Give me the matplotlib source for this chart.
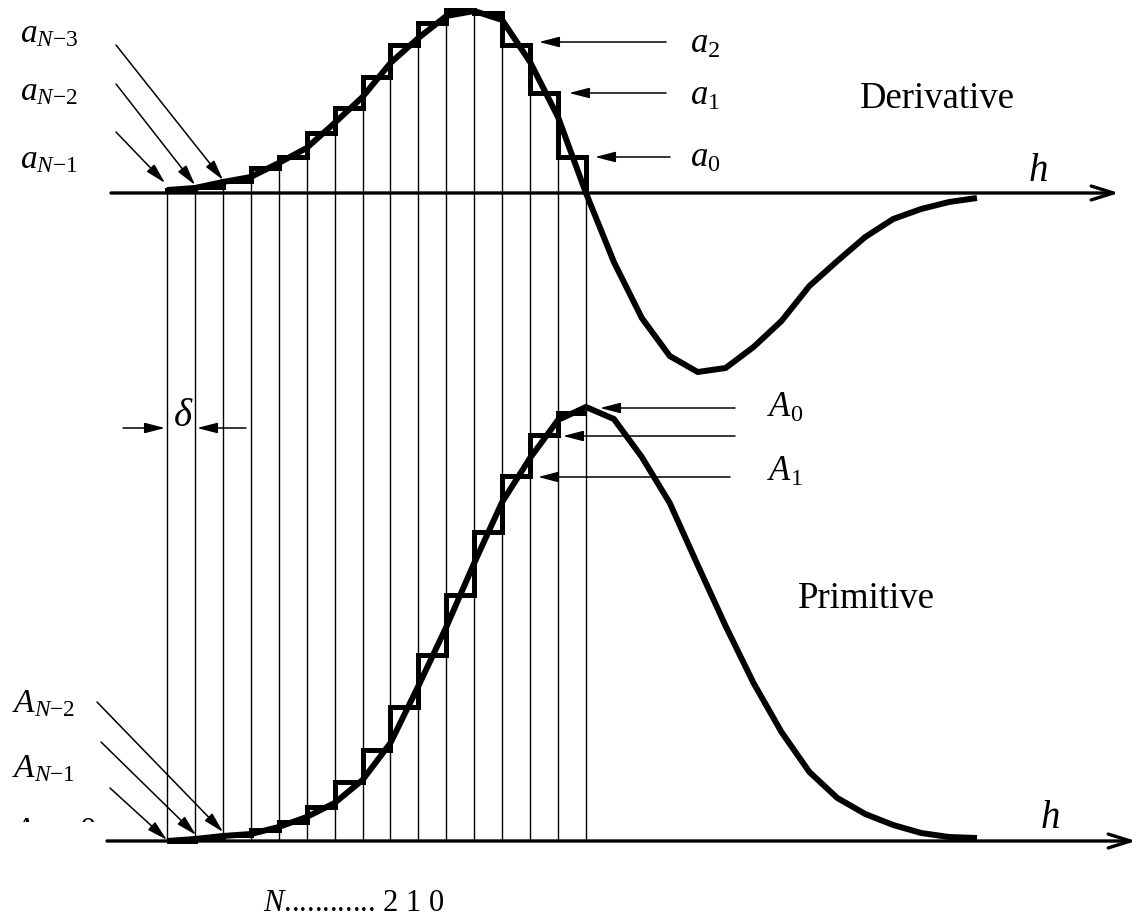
import numpy as np
import matplotlib
matplotlib.use("Agg")
import matplotlib.pyplot as plt
from matplotlib.transforms import Bbox

plt.rcParams['font.family'] = ['Liberation Serif', 'DejaVu Serif']
plt.rcParams['mathtext.fontset'] = 'custom'
plt.rcParams['mathtext.rm'] = 'Liberation Serif'
plt.rcParams['mathtext.it'] = 'Liberation Serif:italic'
plt.rcParams['mathtext.bf'] = 'Liberation Serif:bold'

# ---------------- data ----------------
h_nodes = np.arange(30)                      # sample points along h
step_edges = np.arange(16)                   # staircase cell edges (N ... 2 1 0)

derivative = [3, 5, 11, 16, 30, 45, 70, 96, 130, 155, 177, 182, 173, 131, 76, 0,
              -69, -125, -163, -179, -175, -154, -128, -93, -68, -44, -26, -16, -9, -5]
deriv_steps = [3, 6, 12, 25, 36, 60, 85, 116, 148, 170, 183, 180, 148, 100, 36]

primitive = [0, 2, 5, 7, 14, 24, 38, 61, 98, 155, 214, 278, 339, 383, 421, 434,
             422, 384, 338, 276, 215, 158, 109, 69, 43, 27, 16, 8, 4, 3]
prim_steps = [0, 3, 6, 11, 19, 34, 59, 91, 134, 186, 246, 309, 365, 406, 428]

deriv_right_labels = ['$a_2$', '$a_1$', '$a_0$']
deriv_left_labels = ['$a_{N{-}3}$', '$a_{N{-}2}$', '$a_{N{-}1}$']
prim_right_labels = ['$A_0$', '', '$A_1$']
prim_left_labels = ['$A_{N{-}2}$', '$A_{N{-}1}$', '$A_N = 0$']
title_deriv = 'Derivative'
title_prim = 'Primitive'
axis_label = '$h$'
index_label = '$N$............ 2 1 0'
delta_label = r'$\delta$'

# ---------------- layout ----------------
W, H = 1137, 919
X0_PX, DX_PX = 167.0, 27.93          # pixel position of h=0 and pixel size of one step
Y_D, Y_P = 193.0, 841.0              # pixel rows of the two h axes

fig = plt.figure(figsize=(W / 100, H / 100), dpi=100)
ax = fig.add_axes([0, 0, 1, 1])
ax.set_xlim(-X0_PX / DX_PX, (W - X0_PX) / DX_PX)
ax.set_ylim(H, 0)
ax.axis('off')

def F(x, y):
    return (x / W, 1 - y / H)

deriv = np.array(derivative, float)
dst = np.array(deriv_steps, float)
prim = np.array(primitive, float)
pst = np.array(prim_steps, float)

# vertical grid lines from derivative staircase down to primitive axis
tops = np.array([max(dst[max(i - 1, 0)], dst[min(i, len(dst) - 1)]) for i in step_edges])
ax.vlines(step_edges, Y_D - tops, Y_P, color='k', lw=1.0, zorder=1)

# axes with arrows
for (xa, xb, y) in [(111, 1119, Y_D), (107, 1136, Y_P)]:
    ax.annotate('', xy=F(xb, y), xytext=F(xa, y), xycoords='figure fraction',
                textcoords='figure fraction',
                arrowprops=dict(arrowstyle='->,head_length=0.8,head_width=0.25',
                                lw=2.4, color='k', shrinkA=0, shrinkB=0,
                                mutation_scale=20), zorder=2)

# staircases
ax.stairs(Y_D - dst, step_edges, baseline=Y_D, color='k', lw=3.6,
          joinstyle='miter', zorder=3)
ax.stairs(Y_P - pst, step_edges, baseline=None, color='k', lw=3.6,
          joinstyle='miter', zorder=3)

# curves
ax.plot(h_nodes, Y_D - deriv, color='k', lw=4.3, solid_joinstyle='miter',
        solid_capstyle='butt', zorder=4)
ax.plot(h_nodes, Y_P - prim, color='k', lw=4.3, solid_joinstyle='miter',
        solid_capstyle='butt', zorder=4)

# pointer arrows
def arrow(x0, y0, x1, y1):
    ax.annotate('', xy=F(x1, y1), xytext=F(x0, y0), xycoords='figure fraction',
                textcoords='figure fraction',
                arrowprops=dict(arrowstyle='-|>,head_length=0.62,head_width=0.16',
                                lw=1.1, color='k', shrinkA=0, shrinkB=0,
                                mutation_scale=20), zorder=5)

for (x0, y0, x1, y1) in [(116, 45, 223, 180), (116, 84, 195, 185), (116, 132, 165, 183),
                         (666, 42, 539, 42), (666, 93, 569, 93), (670, 157, 595, 157),
                         (735, 408, 600, 408), (735, 436, 563, 436), (730, 477, 538, 477),
                         (97, 702, 223, 832), (101, 742, 196, 835), (110, 788, 167, 840),
                         (123, 428, 165, 428), (246, 428, 197, 428)]:
    arrow(x0, y0, x1, y1)

# texts
def label(x, y, s, size, clip=None):
    t = fig.text(*F(x, y), s, fontsize=size, ha='left', va='baseline')
    if clip is not None:
        t.set_clip_box(Bbox.from_extents(0, H - clip, W, H))
        t.set_clip_on(True)
    return t

for s, y, c in zip(deriv_left_labels, [42, 100, 168], [None, None, 172]):
    label(20, y, s, 24, clip=c)
for s, y in zip(deriv_right_labels, [53, 105, 167]):
    label(690, y, s, 25)
for s, y in zip(prim_right_labels, [417, 445, 481]):
    if s:
        label(767, y, s, 25)
for s, y, c in zip(prim_left_labels, [712, 777, 840], [None, None, 822]):
    label(12, y, s, 24, clip=c)

label(860, 108, title_deriv, 26.5)
label(798, 608, title_prim, 26.5)
label(1028, 181, axis_label, 28)
label(1040, 828, axis_label, 28)
label(173, 426, delta_label, 28)
label(263, 911, index_label, 22)

fig.savefig('out.png', dpi=100)
